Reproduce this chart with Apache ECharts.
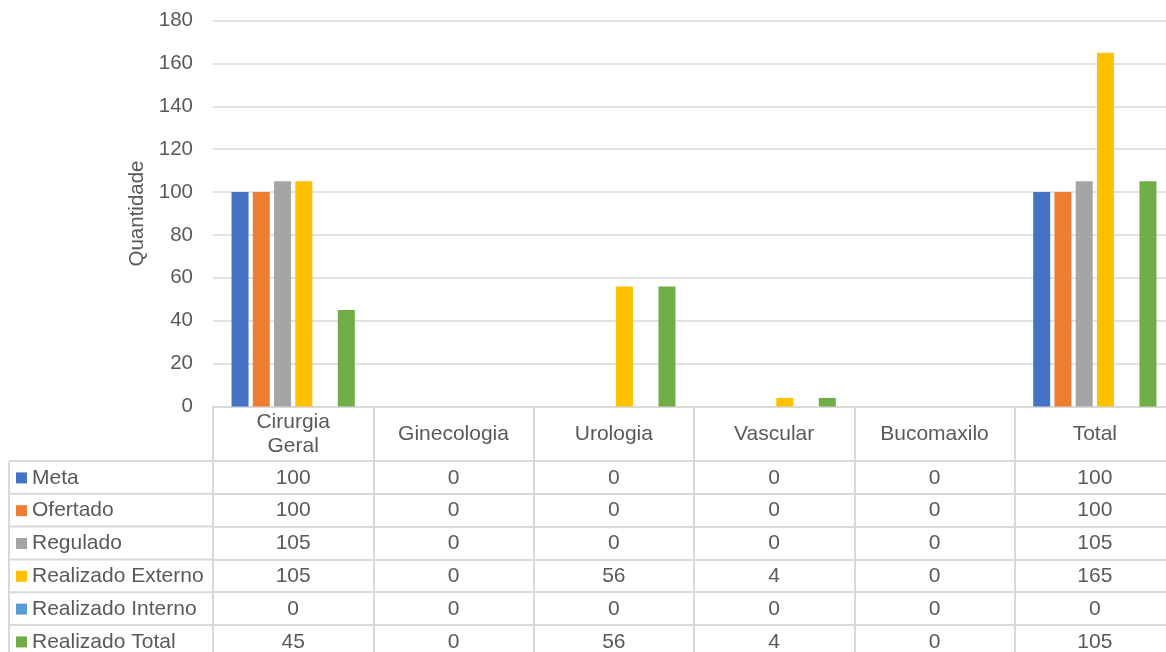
<!DOCTYPE html>
<html>
<head>
<meta charset="utf-8">
<script src="https://cdn.jsdelivr.net/npm/echarts@6/dist/echarts.min.js"></script>
<style>
html,body{margin:0;padding:0;background:#fff;}
#chart{width:1166px;height:652px;}
</style>
</head>
<body>
<div id="chart"></div>
<script>
// ---- data ----
const categories = ['Cirurgia\nGeral', 'Ginecologia', 'Urologia', 'Vascular', 'Bucomaxilo', 'Total'];
const seriesNames = ['Meta', 'Ofertado', 'Regulado', 'Realizado Externo', 'Realizado Interno', 'Realizado Total'];
const meta = [100, 0, 0, 0, 0, 100];
const ofertado = [100, 0, 0, 0, 0, 100];
const regulado = [105, 0, 0, 0, 0, 105];
const realizadoExterno = [105, 0, 56, 4, 0, 165];
const realizadoInterno = [0, 0, 0, 0, 0, 0];
const realizadoTotal = [45, 0, 56, 4, 0, 105];
const yTicks = [0, 20, 40, 60, 80, 100, 120, 140, 160, 180];
const colors = ['#4472C4', '#ED7D31', '#A5A5A5', '#FFC000', '#5B9BD5', '#70AD47'];

const seriesData = [meta, ofertado, regulado, realizadoExterno, realizadoInterno, realizadoTotal];

// ---- layout ----
const FONT = '"Liberation Sans", Arial, sans-serif';
const TXT = '#595959';
const LINE = '#d9d9d9';
const W = 1166, H = 652;
const gridLeft = 213, gridTop = 20.5, gridBottomY = 406.5;
const headerH = 54.5, rowH = 32.8;
const tableLeft = 9;
const TFS = 21;

const chart = echarts.init(document.getElementById('chart'), null, {renderer: 'canvas'});

const xAxes = [{
  type: 'category',
  data: categories,
  position: 'bottom',
  axisLine: {show: true, lineStyle: {color: LINE, width: 2}},
  axisTick: {show: true, alignWithLabel: false, interval: 0, length: headerH, lineStyle: {color: LINE, width: 2}},
  axisLabel: {interval: 0, color: TXT, fontFamily: FONT, fontSize: TFS, lineHeight: 24,
    verticalAlign: 'middle', margin: headerH / 2 + 0.5},
  splitLine: {show: false}
}];
seriesData.forEach((arr, i) => {
  xAxes.push({
    type: 'category',
    data: arr.map(v => String(v)),
    position: 'bottom',
    offset: headerH + rowH * i,
    axisLine: {show: true, lineStyle: {color: LINE, width: 2}},
    axisTick: {show: true, alignWithLabel: false, interval: 0, length: rowH, lineStyle: {color: LINE, width: 2}},
    axisLabel: {interval: 0, color: TXT, fontFamily: FONT, fontSize: TFS, verticalAlign: 'middle', margin: rowH / 2 + 0.5},
    splitLine: {show: false}
  });
});

// legend column: borders, swatches and names
const graphics = [];
for (let i = 0; i <= seriesNames.length; i++) {
  const y = gridBottomY + headerH + rowH * i;
  graphics.push({type: 'line', silent: true,
    shape: {x1: tableLeft, y1: y, x2: gridLeft, y2: y},
    style: {stroke: LINE, lineWidth: 2}});
}
graphics.push({type: 'line', silent: true,
  shape: {x1: tableLeft, y1: gridBottomY + headerH, x2: tableLeft, y2: H + 10},
  style: {stroke: LINE, lineWidth: 2}});
seriesNames.forEach((name, i) => {
  const cy = gridBottomY + headerH + rowH * i + rowH / 2 + 0.5;
  graphics.push({type: 'rect', silent: true,
    shape: {x: 16, y: cy - 5.5, width: 11, height: 11},
    style: {fill: colors[i]}});
  graphics.push({type: 'text', silent: true, x: 32, y: cy,
    style: {text: name, fill: TXT, font: TFS + 'px ' + FONT, textAlign: 'left', textVerticalAlign: 'middle'}});
});

const option = {
  animation: false,
  backgroundColor: '#fff',
  color: colors,
  textStyle: {fontFamily: FONT},
  grid: {left: gridLeft, right: -9, top: gridTop, bottom: H - gridBottomY, containLabel: false, outerBoundsMode: 'none'},
  xAxis: xAxes,
  yAxis: {
    type: 'value', min: yTicks[0], max: yTicks[yTicks.length - 1], interval: yTicks[1] - yTicks[0],
    name: 'Quantidade', nameLocation: 'middle', nameGap: 59, nameRotate: 90,
    nameTextStyle: {color: TXT, fontFamily: FONT, fontSize: 20.5},
    axisLine: {show: false}, axisTick: {show: false},
    axisLabel: {color: TXT, fontFamily: FONT, fontSize: 20.5, margin: 20},
    splitLine: {lineStyle: {color: LINE, width: 1.5}}
  },
  series: seriesNames.map((name, i) => ({
    name: name, type: 'bar', xAxisIndex: 0, data: seriesData[i],
    barWidth: 17, barGap: '25%'
  })),
  graphic: graphics
};
chart.setOption(option);
</script>
</body>
</html>
